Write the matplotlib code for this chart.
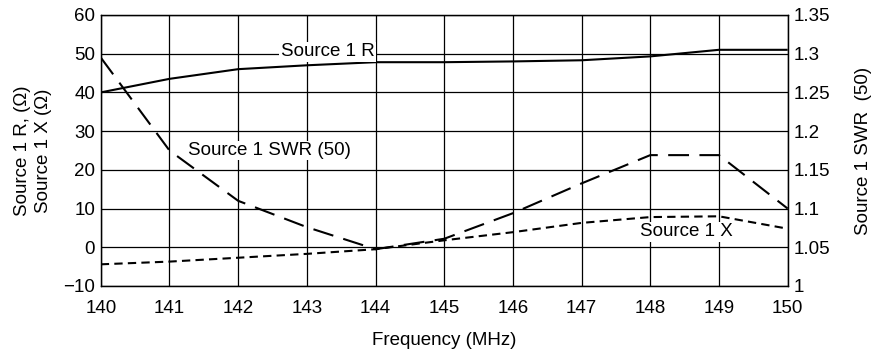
import matplotlib
matplotlib.use("Agg")
import matplotlib.pyplot as plt

plt.rcParams['font.family'] = ['Liberation Sans', 'DejaVu Sans']

freq = [140, 141, 142, 143, 144, 145, 146, 147, 148, 149, 150]
src_r = [40.0, 43.5, 46.0, 47.0, 47.8, 47.8, 48.0, 48.3, 49.3, 51.0, 51.0]
src_x = [-4.4, -3.7, -2.7, -1.7, -0.5, 1.8, 3.9, 6.3, 7.8, 8.0, 4.8]
src_swr = [1.295, 1.175, 1.11, 1.076, 1.0475, 1.061, 1.094, 1.1325, 1.169, 1.169, 1.10]

left_ticks = [-10, 0, 10, 20, 30, 40, 50, 60]
right_ticks = [1, 1.05, 1.1, 1.15, 1.2, 1.25, 1.3, 1.35]
right_labels = ['1', '1.05', '1.1', '1.15', '1.2', '1.25', '1.3', '1.35']
left_labels = ['\u221210', '0', '10', '20', '30', '40', '50', '60']

FS = 13.5

fig = plt.figure(figsize=(8.84, 3.52), dpi=100)
ax = fig.add_axes([0.114, 0.1875, 0.777, 0.77])
ax2 = ax.twinx()

ax.set_xlim(140, 150)
ax.set_ylim(-10, 60)
ax2.set_ylim(1, 1.35)
ax.set_xticks(freq)
ax.set_xticklabels([str(f) for f in freq])
ax.set_yticks(left_ticks)
ax.set_yticklabels(left_labels)
ax2.set_yticks(right_ticks)
ax2.set_yticklabels(right_labels)

ax.grid(True, color='black', linewidth=0.9)
ax.set_axisbelow(True)
for a in (ax, ax2):
    for s in a.spines.values():
        s.set_color('black')
        s.set_linewidth(0.9)
    a.tick_params(length=0, labelsize=FS, pad=4)
ax.tick_params(axis='x', pad=10)

ax.plot(freq, src_r, color='black', linewidth=1.5, solid_capstyle='butt')
ax.plot(freq, src_x, color='black', linewidth=1.5, dashes=(4, 2.5))
ax2.plot(freq, src_swr, color='black', linewidth=1.5, dashes=(10, 5))

ax.text(143.3, 50.5, 'Source 1 R', fontsize=FS, ha='center', va='center',
        bbox=dict(facecolor='white', edgecolor='none', pad=1))
ax.text(142.45, 25.0, 'Source 1 SWR (50)', fontsize=FS, ha='center', va='center',
        bbox=dict(facecolor='white', edgecolor='none', pad=1))
ax.text(148.52, 4.0, 'Source 1 X', fontsize=FS, ha='center', va='center',
        bbox=dict(facecolor='white', edgecolor='none', pad=1))

ax.set_xlabel('Frequency (MHz)', fontsize=FS, labelpad=11)
ax.set_ylabel('Source 1 R, (\u03a9)\nSource 1 X (\u03a9)', fontsize=FS, labelpad=8, linespacing=1.35)
ax2.set_ylabel('Source 1 SWR  (50)', fontsize=FS, labelpad=18)

fig.savefig('out.png', dpi=100)
